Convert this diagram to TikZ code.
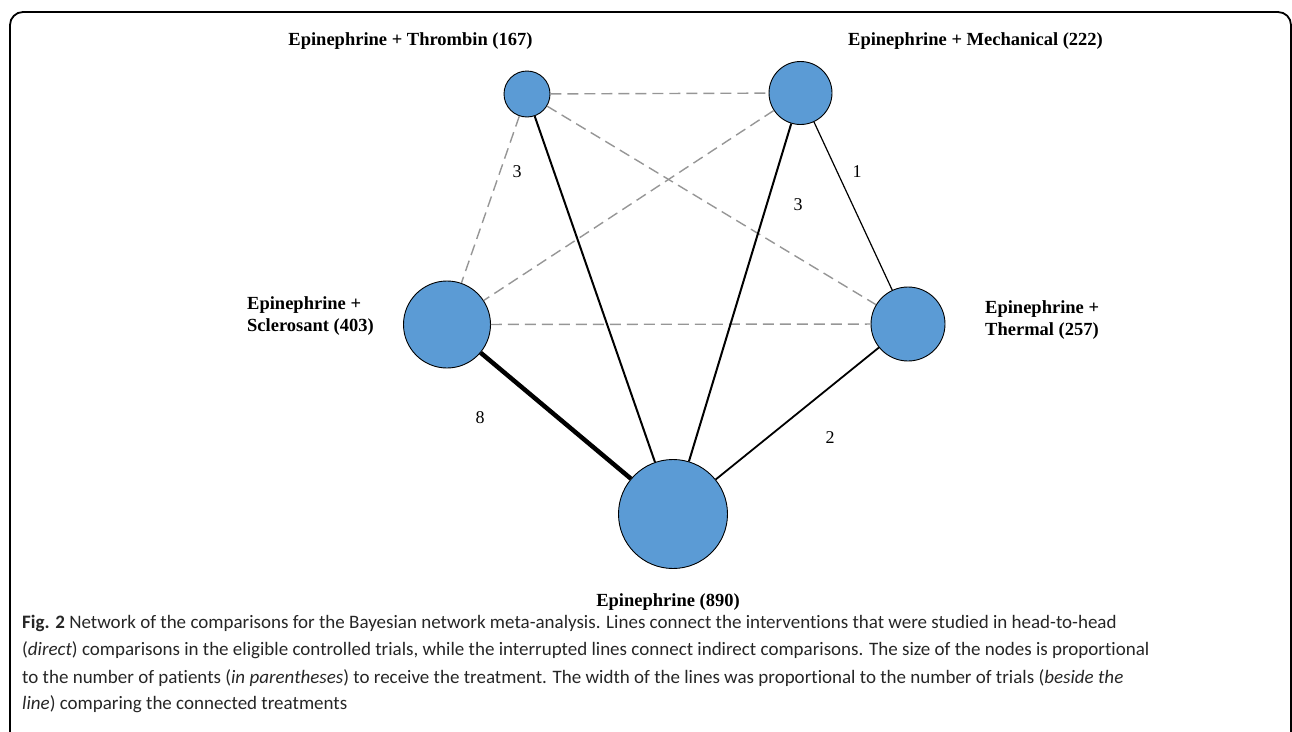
\documentclass[tikz,border=0pt]{standalone}
\usepackage{fontspec}
\setmainfont{Liberation Serif}
\newfontfamily\capfont[Ligatures=NoCommon]{Carlito}
\definecolor{nodeblue}{RGB}{91,155,213}
\definecolor{dashgray}{RGB}{150,150,150}
\begin{document}
\begin{tikzpicture}[x=1pt,y=-1pt,
  trt/.style={circle,draw=black,line width=0.9pt,fill=nodeblue,inner sep=0pt},
  lab/.style={font=\fontsize{18.5}{21}\selectfont\bfseries,align=left,inner sep=0pt},
  num/.style={font=\fontsize{18}{20}\selectfont,inner sep=0pt},
  direct/.style={draw=black},
  indirect/.style={draw=dashgray,line width=1.4pt,dash pattern=on 11pt off 6pt},
  capline/.style={font=\capfont\fontsize{19}{22}\selectfont,anchor=base west,inner sep=0pt,text=black!85}]
\useasboundingbox (0,0) rectangle (1292,731);
% frame
\draw[line width=1.8pt,rounded corners=13pt] (10,740) -- (10,12) -- (1291,12) -- (1291,740);
% nodes
\node[trt,minimum size=46pt] (thr) at (527,94) {};
\node[trt,minimum size=63pt] (mec) at (800.5,93) {};
\node[trt,minimum size=87pt] (scl) at (447,324.5) {};
\node[trt,minimum size=74pt] (the) at (908,324) {};
\node[trt,minimum size=109pt] (epi) at (673,514) {};
% indirect
\draw[indirect] (thr) -- (mec);
\draw[indirect] (thr) -- (scl);
\draw[indirect] (thr) -- (the);
\draw[indirect] (mec) -- (scl);
\draw[indirect] (scl) -- (the);
% direct
\draw[direct,line width=2pt] (thr) -- (epi);
\draw[direct,line width=2pt] (mec) -- (epi);
\draw[direct,line width=1.2pt] (mec) -- (the);
\draw[direct,line width=1.8pt] (the) -- (epi);
\draw[direct,line width=4.5pt] (scl) -- (epi);
% labels
\node[lab,anchor=base] (lthr) at (410.5,45) {Epinephrine + Thrombin (167)};
\node[lab,anchor=base] (lmec) at (975.5,45) {Epinephrine + Mechanical (222)};
\node[lab,anchor=base west] (lscl1) at (247,309) {Epinephrine +};
\node[lab,anchor=base west] (lscl2) at (247,331) {Sclerosant (403)};
\node[lab,anchor=base west] (lthe1) at (985,313) {Epinephrine +};
\node[lab,anchor=base west] (lthe2) at (985,335) {Thermal (257)};
\node[lab,anchor=base] (lepi) at (668,606) {Epinephrine (890)};
% numbers
\node[num] (n1) at (517,172) {3};
\node[num] (n2) at (798,205) {3};
\node[num] (n3) at (857,172) {1};
\node[num] (n4) at (830,438) {2};
\node[num] (n5) at (480,418) {8};
% caption
\node[capline] (cap1) at (22,628) {\textbf{Fig. 2} Network of the comparisons for the Bayesian network meta-analysis. Lines connect the interventions that were studied in head-to-head};
\node[capline] (cap2) at (22,655) {(\textit{direct}) comparisons in the eligible controlled trials, while the interrupted lines connect indirect comparisons. The size of the nodes is proportional};
\node[capline] (cap3) at (22,683) {to the number of patients (\textit{in parentheses}) to receive the treatment. The width of the lines was proportional to the number of trials (\textit{beside the}};
\node[capline] (cap4) at (22,709) {\textit{line}) comparing the connected treatments};
\end{tikzpicture}
\end{document}
